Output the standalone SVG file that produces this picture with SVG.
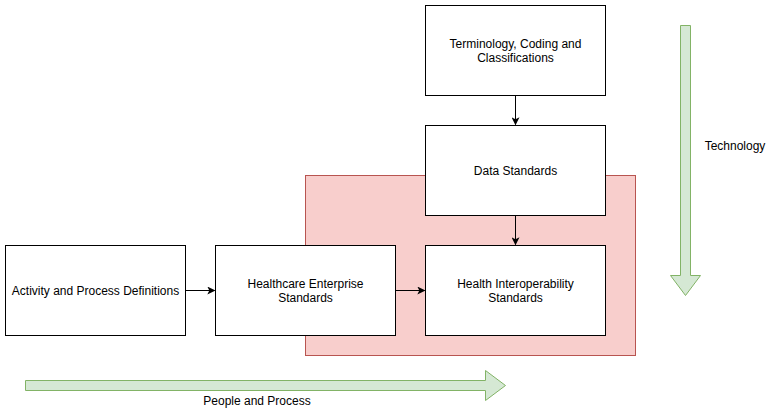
<svg xmlns="http://www.w3.org/2000/svg" width="774" height="414" viewBox="0 0 774 414">
<defs>
<style>
.box{fill:#ffffff;stroke:#000000;stroke-width:1}
.t{font-family:"Liberation Sans",Arial,Helvetica,sans-serif;font-size:12px;fill:#000000;text-anchor:middle}
.edge{fill:none;stroke:#000000;stroke-width:1}
.big{fill:#d5e8d4;stroke:#82b366;stroke-width:1}
</style>
<marker id="ah" viewBox="0 0 10 10" refX="9" refY="5" markerWidth="8" markerHeight="8" markerUnits="userSpaceOnUse" orient="auto">
<path d="M0,0 L10,5 L0,10 L2.5,5 Z" fill="#000000"/>
</marker>
</defs>
<rect width="774" height="414" fill="#ffffff"/>
<g id="group-area">
<rect x="305.5" y="175.5" width="330" height="180" fill="#f8cecc" stroke="#b85450"/>
</g>
<g id="technology-arrow">
<path class="big" d="M680.5,25.5 L690.5,25.5 L690.5,275.5 L700.5,275.5 L685.5,295.5 L670.5,275.5 L680.5,275.5 Z"/>
<text class="t" x="735" y="150">Technology</text>
</g>
<g id="people-arrow">
<path class="big" d="M25.5,380.5 L485.5,380.5 L485.5,370.5 L505.5,385.5 L485.5,400.5 L485.5,390.5 L25.5,390.5 Z"/>
<text class="t" x="257" y="405">People and Process</text>
</g>
<g id="terminology">
<rect class="box" x="425.5" y="5.5" width="180" height="90"/>
<text class="t" x="515.5" y="48">Terminology, Coding and</text>
<text class="t" x="515.5" y="62">Classifications</text>
</g>
<g id="data-standards">
<rect class="box" x="425.5" y="125.5" width="180" height="90"/>
<text class="t" x="515.5" y="174.5">Data Standards</text>
</g>
<g id="health-interop">
<rect class="box" x="425.5" y="245.5" width="180" height="90"/>
<text class="t" x="515.5" y="288">Health Interoperability</text>
<text class="t" x="515.5" y="302">Standards</text>
</g>
<g id="healthcare-enterprise">
<rect class="box" x="215.5" y="245.5" width="180" height="90"/>
<text class="t" x="305.5" y="288">Healthcare Enterprise</text>
<text class="t" x="305.5" y="302">Standards</text>
</g>
<g id="activity">
<rect class="box" x="5.5" y="245.5" width="180" height="90"/>
<text class="t" x="95.5" y="294.5">Activity and Process Definitions</text>
</g>
<g id="connectors">
<path class="edge" d="M185.5,290.5 L214.5,290.5" marker-end="url(#ah)"/>
<path class="edge" d="M395.5,290.5 L424.5,290.5" marker-end="url(#ah)"/>
<path class="edge" d="M515.5,95.5 L515.5,124.5" marker-end="url(#ah)"/>
<path class="edge" d="M515.5,215.5 L515.5,244.5" marker-end="url(#ah)"/>
</g>
</svg>
